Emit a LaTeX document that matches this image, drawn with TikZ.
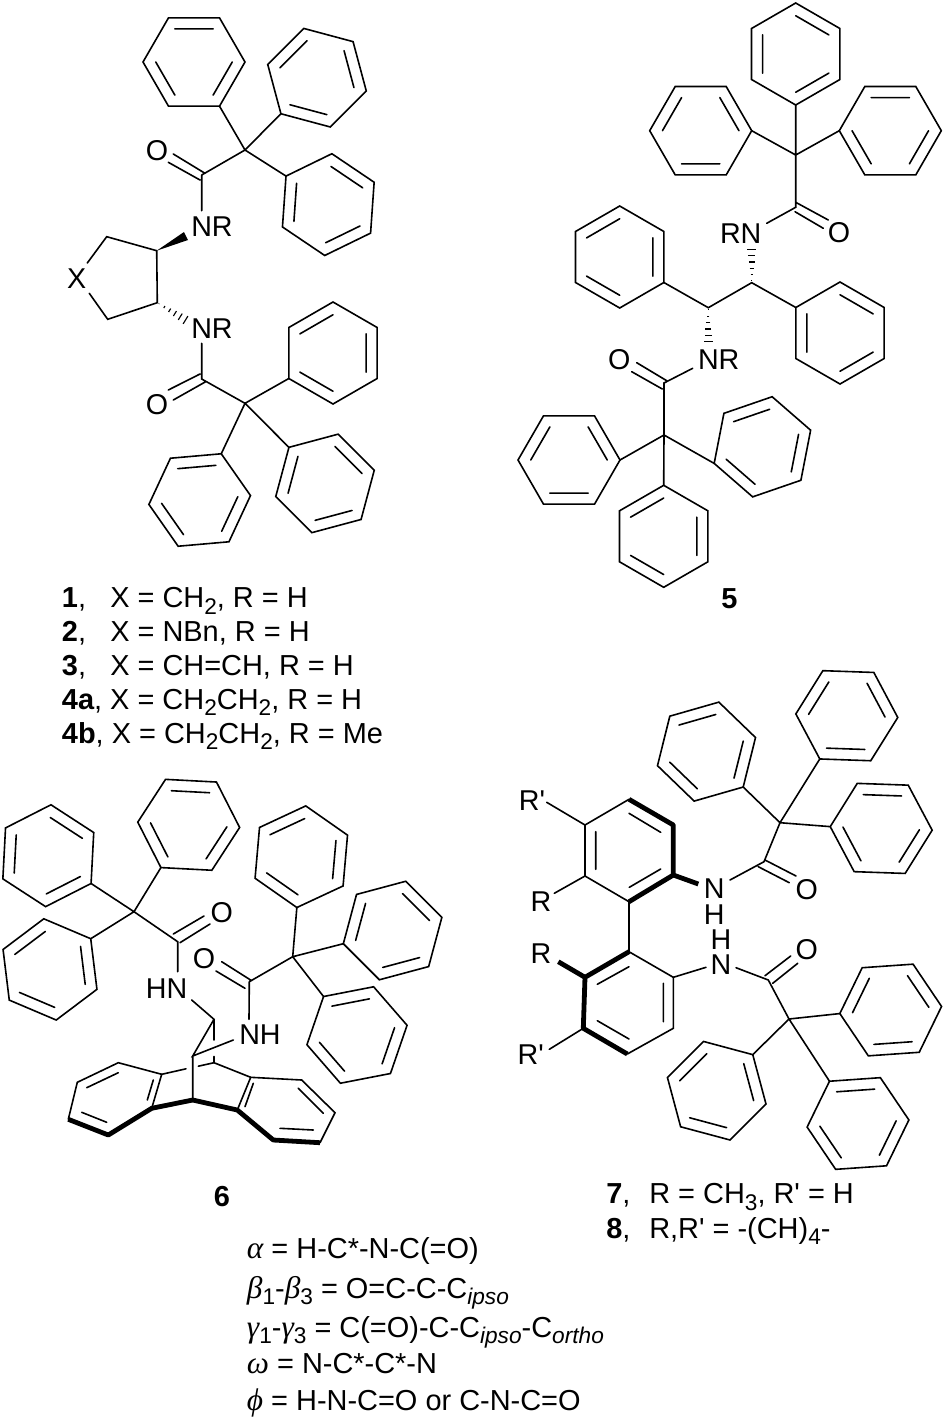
\documentclass[tikz,border=0pt]{standalone}
\usepackage{fontspec}
\setmainfont{Liberation Sans}[Ligatures=TeXOff]
\newfontfamily\gkfont{Liberation Serif}
\usetikzlibrary{calc}
\newcommand{\gk}[1]{{\gkfont\itshape\fontsize{23.5}{24}\selectfont #1}}
\newcommand{\sbs}[1]{\raisebox{-.24em}{\fontsize{17}{18}\selectfont #1}}
\newcommand{\sbi}[1]{\raisebox{-.24em}{\fontsize{17}{18}\selectfont\itshape #1}}
% ring: name, centre x, y, start angle (double bonds on edges 1-2, 3-4, 5-6)
\newcommand{\benz}[4]{%
  \foreach \k in {1,...,6}{%
    \pgfmathsetmacro{\an}{#4+60*(\k-1)}%
    \coordinate (#1\k) at ([shift={(#2,#3)}]\an:51);
    \coordinate (#1i\k) at ([shift={(#2,#3)}]\an:38.25);
  }
  \draw[bond] (#11)--(#12)--(#13)--(#14)--(#15)--(#16)--cycle;
  \draw[bond] (#1i1)--(#1i2) (#1i3)--(#1i4) (#1i5)--(#1i6);
}
\newcommand{\cc}[3]{\coordinate (#1) at (#2,#3);}
% hashed bond from narrow end #1 to wide end #2
\newcommand{\hashb}[2]{%
  \foreach \t in {.06,.24,.42,.6,.78,.96}{%
    \pgfmathsetmacro{\w}{\t*3.6}%
    \draw[line width=.85pt] ($(#1)!\t!(#2)!\w pt!90:(#2)$) -- ($(#1)!\t!(#2)!\w pt!-90:(#2)$);
  }
}
\tikzset{
  bond/.style={line width=1.2pt,line join=miter,line cap=round},
  heavy/.style={line width=3.6pt,line join=round,line cap=butt},
  atom/.style={inner sep=0pt,font=\fontsize{21.5}{24}\selectfont},
  txt/.style={inner sep=0pt,anchor=base west,font=\fontsize{21.7}{24}\selectfont},
  num/.style={inner sep=0pt,font=\fontsize{21.7}{24}\selectfont\bfseries},
}
\begin{document}
\begin{tikzpicture}[x=.75pt,y=-.75pt]
\useasboundingbox (0,0) rectangle (945,1421);
\fill[white] (0,0) rectangle (945,1421);

%% ---------- compound 1-4 ----------
\benz{a}{194}{62}{0}
\benz{b}{317}{77.7}{-45}
\benz{c}{328.3}{204.6}{-86}
\benz{d}{333}{353}{-30}
\benz{e}{325}{483.4}{-75}
\benz{f}{199.7}{500}{-125}
\cc{qa}{245}{150}
\cc{cob}{201.7}{175}
\cc{oa1}{173.3}{154}\cc{oa2}{205}{173.3}
\cc{oa3}{168.3}{162.3}\cc{oa4}{200}{180}
\cc{na}{201.7}{210.7}
\node[atom] (O1) at (157,150.5) {O};
\node[atom] (NR1) at (212,227) {NR};
\draw[bond] (qa)--(a2) (qa)--(b4) (qa)--(c6) (qa)--(cob) (cob)--(na) (oa1)--(oa2) (oa3)--(oa4);
\cc{r1}{156.7}{250.7}\cc{r2}{106.7}{236.7}\cc{xu}{87.3}{263}
\cc{xd}{89.3}{293.3}\cc{r3}{107.7}{319.3}\cc{r4}{157.3}{302.7}
\node[atom] (X) at (76.7,279) {X};
\draw[bond] (xu)--(r2)--(r1)--(r4)--(r3)--(xd);
\cc{wa}{188}{240}\cc{wb}{184}{232}
\fill (r1)--(wa)--(wb)--cycle;
\cc{nb}{186.7}{320.7}
\hashb{r4}{nb}
\node[atom] (NR2) at (212,328.3) {NR};
\cc{nc}{201.7}{343.3}\cc{cob2}{201.7}{379}\cc{qb}{245}{403.3}
\cc{ob1}{168.3}{390}\cc{ob2}{200}{374}
\cc{ob3}{173.3}{400}\cc{ob4}{205.7}{381.7}
\node[atom] (O2) at (157,404.5) {O};
\draw[bond] (nc)--(cob2)--(qb) (qb)--(d4) (qb)--(e6) (qb)--(f2) (ob1)--(ob2) (ob3)--(ob4);

\node[txt] (t1a) at (61.7,607.3) {\textbf{1},};
\node[txt] (t1b) at (110,607.3) {X = CH\sbs{2}, R = H};
\node[txt] (t2a) at (61.7,641) {\textbf{2},};
\node[txt] (t2b) at (110,641) {X = NBn, R = H};
\node[txt] (t3a) at (61.7,675) {\textbf{3},};
\node[txt] (t3b) at (110,675) {X = CH=CH, R = H};
\node[txt] (t4a) at (61.7,709) {\textbf{4a}, X = CH\sbs{2}CH\sbs{2}, R = H};
\node[txt] (t4b) at (61.7,743) {\textbf{4b}, X = CH\sbs{2}CH\sbs{2}, R = Me};

%% ---------- compound 5 ----------
\benz{g}{795.7}{54}{-90}
\benz{h}{700.7}{130.7}{60}
\benz{i}{890.3}{130.7}{0}
\benz{j}{840}{333}{-90}
\benz{k}{619.7}{257}{-30}
\benz{l}{569}{460}{60}
\benz{m}{762.4}{446.8}{-139}
\benz{n}{663.7}{536.3}{-30}
\cc{qc}{795.7}{155}\cc{coc}{795.7}{207.3}
\cc{oc1}{795.7}{202.3}\cc{oc2}{828.3}{220}
\cc{oc3}{795}{211.7}\cc{oc4}{823.3}{228.3}
\cc{nd}{766.7}{223.3}
\node[atom] (O3) at (839,232.7) {O};
\node[atom] (RN) at (740.7,233.3) {RN};
\draw[bond] (qc)--(g4) (qc)--(h6) (qc)--(i4) (qc)--(coc)--(nd) (oc1)--(oc2) (oc3)--(oc4);
\cc{s1}{751.7}{282.7}\cc{s2}{708.3}{307.7}\cc{ne}{751.7}{248.3}\cc{nf}{708.3}{343.3}
\draw[bond] (j6)--(s1)--(s2)--(k2);
\hashb{s1}{ne}
\hashb{s2}{nf}
\node[atom] (NR3) at (718.7,360) {NR};
\cc{ng}{692.7}{368.3}\cc{cod}{664}{383}\cc{qd}{664}{435}
\cc{od1}{636.7}{362.7}\cc{od2}{666.7}{380.7}
\cc{od3}{631.7}{371.7}\cc{od4}{662.3}{389}
\node[atom] (O4) at (619.3,360) {O};
\draw[bond] (ng)--(cod)--(qd) (qd)--(l6) (qd)--(m6) (qd)--(n6) (od1)--(od2) (od3)--(od4);
\node[num] (lab5) at (729.3,598.3) {5};

%% ---------- compound 6 ----------
\benz{o}{48.3}{855.7}{-87}
\benz{p}{188.7}{824.8}{-117}
\benz{q}{50}{969.4}{-37}
\benz{r}{301.3}{856.7}{-145}
\benz{s}{392.6}{930.5}{-75}
\benz{t}{357}{1035}{-131}
\cc{qe}{134}{911.7}\cc{coe}{177.7}{941.7}
\cc{oe1}{173.3}{934}\cc{oe2}{204}{916}
\cc{oe3}{180}{942.7}\cc{oe4}{210}{924}
\cc{nh}{177.7}{971.7}
\node[atom] (O5) at (221.7,912.7) {O};
\node[atom] (HN) at (166.7,988.3) {HN};
\draw[bond] (qe)--(o3) (qe)--(p5) (qe)--(q1) (qe)--(coe)--(nh) (oe1)--(oe2) (oe3)--(oe4);
\cc{u1}{191.7}{1000}\cc{u2}{214}{1019.3}\cc{u3}{192.7}{1056}\cc{u4}{214}{1040}
\cc{u5}{214}{1056.5}\cc{u6}{214}{1062.7}\cc{u7}{233.3}{1040}\cc{u8}{192.7}{1100}
\node[atom] (NH) at (260,1034.7) {NH};
\draw[bond] (u1)--(u2)--(u3)--(u7) (u2)--(u4) (u5)--(u6) (u3)--(u8);
\cc{qf}{292.7}{956.7}\cc{cof}{249.3}{981.7}\cc{ni}{249}{1019.3}
\cc{of1}{221.7}{961.7}\cc{of2}{251.7}{980.7}
\cc{of3}{216}{971}\cc{of4}{245}{988.3}
\node[atom] (O6) at (204,959) {O};
\draw[bond] (qf)--(r5) (qf)--(s5) (qf)--(t1) (qf)--(cof)--(ni) (of1)--(of2) (of3)--(of4);
% anthracene skeleton
\cc{v1}{161.7}{1074.3}\cc{v2}{151.7}{1108.3}\cc{v3}{108.3}{1135}\cc{v4}{68.3}{1119.3}
\cc{v5}{77.3}{1082.3}\cc{v6}{118.3}{1062.7}
\cc{w1}{250.7}{1077.3}\cc{w2}{301.7}{1080}\cc{w3}{335}{1112.7}\cc{w4}{320}{1142.7}
\cc{w5}{273.3}{1140}\cc{w6}{237.3}{1110}
\cc{gp1}{186}{1068.8}\cc{gp2}{198.3}{1066.2}
\draw[bond] (v4)--(v5)--(v6)--(v1)--(v2) (w6)--(w1)--(w2)--(w3)--(w4);
\draw[bond] (v1)--(gp1) (gp2)--(u6)--(w1);
\draw[heavy] (v4)--(v3)--(v2)--(u8)--(w6)--(w5)--(w4);
\cc{x1}{147.3}{1100}\cc{x2}{153.3}{1080}\cc{x3}{86.7}{1087.7}\cc{x4}{118.3}{1072.7}
\cc{x5}{81.7}{1112.3}\cc{x6}{106.7}{1122.3}\cc{x7}{253.3}{1083.3}\cc{x8}{245}{1106.7}
\cc{x9}{298.3}{1088.3}\cc{x10}{323.3}{1113.3}\cc{x11}{280}{1128.3}\cc{x12}{313.3}{1130}
\draw[bond] (x1)--(x2) (x3)--(x4) (x5)--(x6) (x7)--(x8) (x9)--(x10) (x11)--(x12);
\node[num] (lab6) at (222,1197) {6};

%% ---------- compound 7, 8 ----------
\cc{y1}{629}{799.3}\cc{y2}{673.3}{825}\cc{y3}{673.3}{875}\cc{y4}{629}{901.7}\cc{y5}{585}{876}\cc{y6}{585}{825}
\draw[bond] (y1)--(y6)--(y5)--(y4);
\draw[heavy] (y1)--(y2)--(y3)--(y4);
\cc{ya}{629}{813.3}\cc{yb}{660.7}{832.3}\cc{yc}{660.7}{869}\cc{yd}{629.3}{887.3}\cc{ye}{595.7}{831.7}\cc{yf}{595.7}{869.3}
\draw[bond] (ya)--(yb) (yc)--(yd) (ye)--(yf);
\cc{yn}{698.3}{884}
\draw[heavy] (y3)--(yn);
\cc{rp1}{546.7}{802.3}\cc{rr1}{554.3}{893.3}
\node[atom] (Rp1) at (532,800.7) {R'};
\node[atom] (R1) at (541,902) {R};
\draw[bond] (rp1)--(y6) (rr1)--(y5);
\cc{z1}{629}{951.7}\cc{z2}{673.3}{977.3}\cc{z3}{673.3}{1028.3}\cc{z4}{627.3}{1054}\cc{z5}{583.3}{1028.3}\cc{z6}{585}{977.3}
\draw[bond] (y4)--(z1)--(z2)--(z3)--(z4);
\draw[heavy] (z1)--(z6)--(z5)--(z4);
\cc{za}{597.3}{984.3}\cc{zb}{629}{966.7}\cc{zc}{663.3}{983.3}\cc{zd}{663.3}{1021.7}\cc{ze}{597.3}{1020.7}\cc{zf}{629}{1039}
\draw[bond] (za)--(zb) (zc)--(zd) (ze)--(zf);
\cc{rr2}{558.3}{961.7}\cc{rp2}{549.3}{1049.3}
\draw[heavy] (rr2)--(z6);
\draw[bond] (rp2)--(z5);
\node[atom] (R2) at (541,953.3) {R};
\node[atom] (Rp2) at (530.7,1055) {R'};
\node[atom] (N7) at (714.3,889) {N};
\node[atom] (H7) at (714.3,915) {H};
\node[atom] (H8) at (721,940) {H};
\node[atom] (N8) at (721,964.3) {N};
\cc{n7r}{730}{880}\cc{cog}{764}{861.7}\cc{qg}{780}{822.7}
\cc{og1}{765}{860}\cc{og2}{796}{876}\cc{og3}{758.3}{866.7}\cc{og4}{789.3}{882.7}
\node[atom] (O7) at (806.7,890) {O};
\draw[bond] (n7r)--(cog)--(qg) (og1)--(og2) (og3)--(og4);
\benz{aa}{706.5}{751.6}{-136}
\benz{ab}{846.8}{715.7}{-58}
\benz{ac}{881.2}{828.4}{-118}
\draw[bond] (qg)--(aa4) (qg)--(ab4) (qg)--(ac6);
\cc{n8l}{706}{967.3}\cc{n8r}{736}{967.7}\cc{coh}{768.3}{980}\cc{qh}{789}{1019}
\cc{oh1}{765}{975.7}\cc{oh2}{790.7}{956}\cc{oh3}{772.7}{983.3}\cc{oh4}{797.7}{963.3}
\node[atom] (O8) at (806.7,949.3) {O};
\draw[bond] (z2)--(n8l) (n8r)--(coh)--(qh) (oh1)--(oh2) (oh3)--(oh4);
\benz{ad}{890.7}{1010}{-64}
\benz{ae}{716.7}{1090.7}{-45}
\benz{af}{858}{1123.5}{-124}
\draw[bond] (qh)--(ad5) (qh)--(ae1) (qh)--(af1);
\node[txt] (t7a) at (606,1203.5) {\textbf{7},};
\node[txt] (t7b) at (649,1203.5) {R = CH\sbs{3}, R' = H};
\node[txt] (t8a) at (606,1238) {\textbf{8},};
\node[txt] (t8b) at (649,1238) {R,R' = -(CH)\sbs{4}-};

%% ---------- definitions ----------
\node[txt] (da) at (246.7,1258) {\gk{α} = H-C*-N-C(=O)};
\node[txt] (db) at (246.7,1298) {\gk{β}\sbs{1}-\gk{β}\sbs{3} = O=C-C-C\sbi{ipso}};
\node[txt] (dc) at (246.7,1337) {\gk{γ}\sbs{1}-\gk{γ}\sbs{3} = C(=O)-C-C\sbi{ipso}-C\sbi{ortho}};
\node[txt] (dd) at (246.7,1373) {\gk{ω} = N-C*-C*-N};
\node[txt] (de) at (246.7,1410) {\gk{ϕ} = H-N-C=O or C-N-C=O};
\end{tikzpicture}
\end{document}
